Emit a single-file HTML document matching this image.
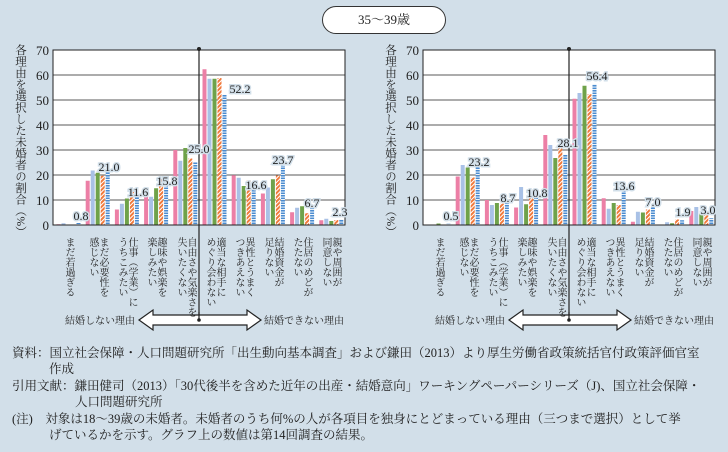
<!DOCTYPE html>
<html><head><meta charset="utf-8">
<style>
body{margin:0;width:728px;height:452px;background:#d2dfe9;overflow:hidden;position:relative;font-family:"Liberation Serif","Noto Serif CJK SC",serif;color:#222}
.cat{position:absolute;top:237px;writing-mode:vertical-rl;font-size:10px;line-height:10px;transform:translateX(-50%);white-space:nowrap}
.foot{position:absolute;left:12px;font-size:12.5px;line-height:16px;white-space:nowrap}
.yt{position:absolute;writing-mode:vertical-rl;font-size:11.5px;top:44px;letter-spacing:0px}
</style></head><body>
<div style="position:absolute;left:322px;top:6px;width:122px;height:26px;border:1.3px solid #333;border-radius:14px;background:#fff;font-size:13px;text-align:center;line-height:26px">35～39歳</div>
<div class="yt" style="left:12px">各理由を選択した未婚者の割合（%）</div>
<div class="yt" style="left:382px">各理由を選択した未婚者の割合（%）</div>
<svg id="s" width="728" height="452" style="position:absolute;left:0;top:0" font-family="Liberation Serif, serif" font-size="12">
<defs>
<pattern id="h" width="3" height="3" patternUnits="userSpaceOnUse" patternTransform="rotate(45)"><rect width="3" height="3" fill="#f07a3c"/><rect width="1" height="3" fill="#fff"/></pattern>
<pattern id="d" width="4" height="2.5" patternUnits="userSpaceOnUse"><rect width="4" height="2.5" fill="#4a8bd0"/><rect y="1.6" width="4" height="0.9" fill="#fff"/></pattern>
</defs>
<g id="bars"></g>
<g fill="#222" text-anchor="end" font-size="13">
<text x="49" y="55">70</text><text x="49" y="80">60</text><text x="49" y="105">50</text><text x="49" y="130">40</text><text x="49" y="155">30</text><text x="49" y="180">20</text><text x="49" y="205">10</text><text x="49" y="230">0</text>
<text x="419" y="55">70</text><text x="419" y="80">60</text><text x="419" y="105">50</text><text x="419" y="130">40</text><text x="419" y="155">30</text><text x="419" y="180">20</text><text x="419" y="205">10</text><text x="419" y="230">0</text>
</g>
<g fill="#222" text-anchor="middle" stroke="#d2dfe9" stroke-width="3" paint-order="stroke">
<text x="81" y="220">0.8</text><text x="109" y="171">21.0</text><text x="138" y="196">11.6</text><text x="167" y="185">15.8</text><text x="199" y="153">25.0</text><text x="240" y="93">52.2</text><text x="256" y="189">16.6</text><text x="283" y="164">23.7</text><text x="312" y="207">6.7</text><text x="340" y="216">2.3</text>
<text x="451" y="220">0.5</text><text x="479" y="166">23.2</text><text x="508" y="202">8.7</text><text x="537" y="197">10.8</text><text x="568" y="147">28.1</text><text x="597" y="80">56.4</text><text x="624" y="190">13.6</text><text x="653" y="206">7.0</text><text x="683" y="216">1.9</text><text x="708" y="214">3.0</text>
</g>
<g font-family="Liberation Serif, Noto Serif CJK SC, serif" font-size="10" fill="#222">
<text x="65" y="324">結婚しない理由</text><text x="264" y="324">結婚できない理由</text>
<text x="435" y="324">結婚しない理由</text><text x="634" y="324">結婚できない理由</text>
</g>
</svg>
<div class="cat" style="left:68px">まだ若過ぎる</div>
<div class="cat" style="left:97px">まだ必要性を<br>感じない</div>
<div class="cat" style="left:126px">仕事（学業）に<br>うちこみたい</div>
<div class="cat" style="left:155px">趣味や娯楽を<br>楽しみたい</div>
<div class="cat" style="left:185px">自由さや気楽さを<br>失いたくない</div>
<div class="cat" style="left:214px">適当な相手に<br>めぐり会わない</div>
<div class="cat" style="left:243px">異性とうまく<br>つきあえない</div>
<div class="cat" style="left:272px">結婚資金が<br>足りない</div>
<div class="cat" style="left:301px">住居のめどが<br>たたない</div>
<div class="cat" style="left:330px">親や周囲が<br>同意しない</div>
<div class="cat" style="left:438px">まだ若過ぎる</div>
<div class="cat" style="left:467px">まだ必要性を<br>感じない</div>
<div class="cat" style="left:496px">仕事（学業）に<br>うちこみたい</div>
<div class="cat" style="left:525px">趣味や娯楽を<br>楽しみたい</div>
<div class="cat" style="left:555px">自由さや気楽さを<br>失いたくない</div>
<div class="cat" style="left:584px">適当な相手に<br>めぐり会わない</div>
<div class="cat" style="left:613px">異性とうまく<br>つきあえない</div>
<div class="cat" style="left:642px">結婚資金が<br>足りない</div>
<div class="cat" style="left:671px">住居のめどが<br>たたない</div>
<div class="cat" style="left:700px">親や周囲が<br>同意しない</div>
<div class="foot" style="top:345px">資料：国立社会保障・人口問題研究所「出生動向基本調査」および鎌田（2013）より厚生労働省政策統括官付政策評価官室</div>
<div class="foot" style="top:361px;left:49px">作成</div>
<div class="foot" style="top:378px">引用文献：鎌田健司（2013）「30代後半を含めた近年の出産・結婚意向」ワーキングペーパーシリーズ（J)、国立社会保障・</div>
<div class="foot" style="top:394px;left:75px">人口問題研究所</div>
<div class="foot" style="top:411px">(注)　対象は18～39歳の未婚者。未婚者のうち何%の人が各項目を独身にとどまっている理由（三つまで選択）として挙</div>
<div class="foot" style="top:427px;left:49px">げているかを示す。グラフ上の数値は第14回調査の結果。</div>
<script>
var L=[[0.3,0.7,0,0,0.8],[17.7,21.8,20.9,19.7,21.0],[6.2,8.5,10.6,13.4,11.6],[14.8,11.3,14.7,18.5,15.8],[30,25.7,30.8,26.6,25.0],[62.3,58.5,58.5,58.8,52.2],[19.9,18.9,15.6,17.8,16.6],[12.6,15,18.3,19.8,23.7],[5.1,6.9,7.5,4.7,6.7],[1.9,2.5,1.6,2,2.3]];
var R=[[0,0,0.6,0,0.5],[19.4,24,23,19,23.2],[10,8,8.8,8.5,8.7],[7,15.2,8.3,10.8,10.8],[36,32,26.8,31.3,28.1],[50.5,52.8,55.7,52.3,56.4],[10.7,6.5,8.8,8,13.6],[1.3,5.3,5,6.2,7.0],[0,1.1,0.7,2.2,1.9],[5.6,7.2,4.5,5,2.7]];
var C=["#ec7fa6","#a9c1e6","#6fa24a","url(#h)","url(#d)"];
var s="";
function chart(x0,D){
 var w=292,top=50,b=225;
 s+='<rect x="'+x0+'" y="'+top+'" width="'+w+'" height="175" fill="#fff"/>';
 for(var i=1;i<7;i++){var y=b-i*25;s+='<line x1="'+x0+'" x2="'+(x0+w)+'" y1="'+y+'" y2="'+y+'" stroke="#222" stroke-width="0.8"/>';}
 D.forEach(function(g,gi){g.forEach(function(v,k){var h=v*2.5;var x=x0+gi*29.2+3.5+k*5;s+='<rect x="'+x+'" y="'+(b-h)+'" width="4" height="'+h+'" fill="'+C[k]+'"/>';});});
 s+='<rect x="'+x0+'" y="'+top+'" width="'+w+'" height="175" fill="none" stroke="#222" stroke-width="1"/>';
 var mx=x0+146;
 s+='<line x1="'+mx+'" x2="'+mx+'" y1="48" y2="320" stroke="#222" stroke-width="1.2"/><circle cx="'+mx+'" cy="49" r="2" fill="#222"/>';
 var a=x0+86,e=x0+208;
 s+='<path d="M'+a+' 320 L'+(a+14)+' 310 L'+(a+14)+' 315 L'+(e-14)+' 315 L'+(e-14)+' 310 L'+e+' 320 L'+(e-14)+' 330 L'+(e-14)+' 325 L'+(a+14)+' 325 L'+(a+14)+' 330 Z" fill="#fff" stroke="#222" stroke-width="1.2"/>';
 s+='<line x1="'+mx+'" x2="'+mx+'" y1="312" y2="320" stroke="#222" stroke-width="1.2"/><circle cx="'+mx+'" cy="320" r="1.8" fill="#222"/>';
}
chart(53,L);chart(423,R);
document.getElementById("bars").innerHTML=s;
</script>
</body></html>
